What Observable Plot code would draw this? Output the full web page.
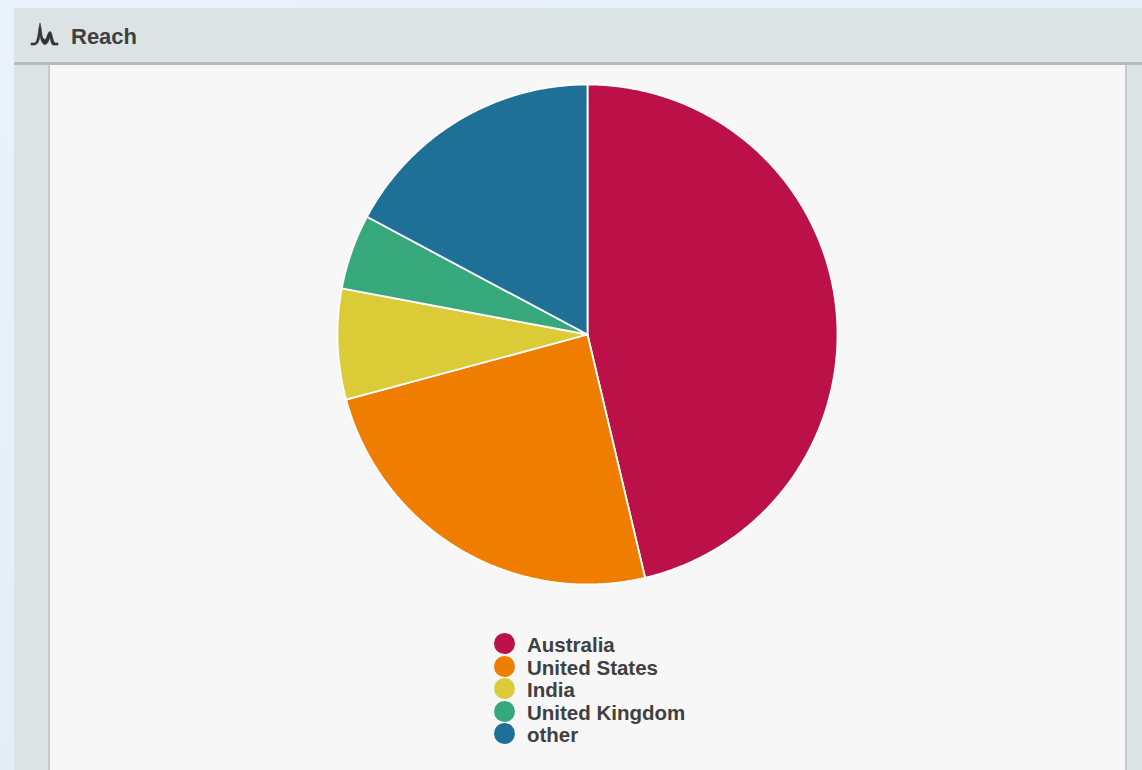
<!DOCTYPE html>
<html>
<head>
<meta charset="utf-8">
<script src="https://cdn.jsdelivr.net/npm/d3@7"></script>
<script src="https://cdn.jsdelivr.net/npm/@observablehq/plot@0.6"></script>
<style>
html,body{margin:0;padding:0;width:1142px;height:770px;overflow:hidden;background:linear-gradient(155deg,#eaf2fb 0%,#e4eff8 45%,#dce9f4 100%);font-family:"Liberation Sans",Arial,sans-serif;}
#head{position:absolute;left:14px;top:8px;width:1128px;height:54px;background:#dbe3e5;border-bottom:3px solid #b3bec0;}
#title{position:absolute;left:71px;top:24px;font-size:22px;line-height:26px;font-weight:bold;color:#404040;}
#icon{position:absolute;left:30px;top:22px;}
#side{position:absolute;left:14px;top:65px;width:34px;height:705px;background:#dbe3e5;}
#rside{position:absolute;left:1127px;top:65px;width:15px;height:705px;background:#dbe3e5;}
#panel{position:absolute;left:48px;top:65px;height:705px;background:#f7f7f7;border-left:2px solid #c3cbcd;border-right:2px solid #c3cbcd;width:1075px;}
#chart{position:absolute;left:327px;top:74px;}
#chart svg{background:transparent;display:block;}
#legend{position:absolute;left:494px;top:633px;}
.row{position:absolute;left:0;height:22px;white-space:nowrap;}
.sw{position:absolute;left:0;top:0;width:21px;height:21px;border-radius:50%;}
.lb{position:absolute;left:33px;top:0;font-size:20.5px;line-height:23px;font-weight:bold;color:#404040;}
</style>
</head>
<body>
<div id="head"></div>
<div id="side"></div>
<div id="rside"></div>
<div id="panel"></div>
<svg id="icon" width="30" height="24" viewBox="0 0 30 24"><path d="M1 21H4.500C6.500 21 8 15 8.800 7L10 1L11.200 7C11.800 14 13 17.500 15 17.500C17 17.500 17.500 9.500 20 9.500C22.500 9.500 22.500 21 25.500 21H28V23H23C21 23 20.500 16 20 15C18.500 20 17 22.500 15 22.500C12 22.500 10.500 17 10 13C9.500 18 8 23 4 23H1Z" fill="#333333" stroke="#333333" stroke-width="0.6"/></svg>
<div id="title">Reach</div>
<div id="chart"></div>
<div id="legend"></div>
<script>
const categories = ["Australia", "United States", "India", "United Kingdom", "other"];
const shares = [46.3, 24.5, 7.15, 4.85, 17.2];
const colors = ["#bc1148", "#ef7d00", "#dbcb37", "#37a87c", "#1f7096"];
const legendSteps = [0, 22.5, 45, 67.5, 89.5];

const total = d3.sum(shares);
const slices = [];
let start = 0;
categories.forEach((name, i) => {
  const a0 = start / total * 2 * Math.PI;
  const a1 = (start + shares[i]) / total * 2 * Math.PI;
  const n = Math.max(2, Math.ceil((a1 - a0) / 0.005));
  slices.push({name, x: 0, y: 0});
  for (let k = 0; k <= n; k++) {
    const a = a0 + (a1 - a0) * k / n;
    slices.push({name, x: Math.sin(a), y: Math.cos(a)});
  }
  slices.push({name, x: 0, y: 0});
  start += shares[i];
});

const half = 260 / 250;
const plot = Plot.plot({
  width: 520, height: 520,
  margin: 0,
  style: {background: "transparent", overflow: "visible"},
  x: {domain: [-half, half], axis: null},
  y: {domain: [-half, half], axis: null},
  color: {type: "ordinal", domain: categories, range: colors},
  marks: [
    Plot.line(slices, {x: "x", y: "y", z: "name", fill: "name", stroke: "#ffffff", strokeWidth: 1.8, strokeLinejoin: "round", curve: "linear"})
  ]
});
document.getElementById("chart").appendChild(plot);

const scale = plot.scale("color");
const legend = d3.select("#legend");
categories.forEach((name, i) => {
  const row = legend.append("div").attr("class", "row").style("top", legendSteps[i] + "px");
  row.append("span").attr("class", "sw").style("background", scale.apply(name));
  row.append("span").attr("class", "lb").text(name);
});
</script>
</body>
</html>
